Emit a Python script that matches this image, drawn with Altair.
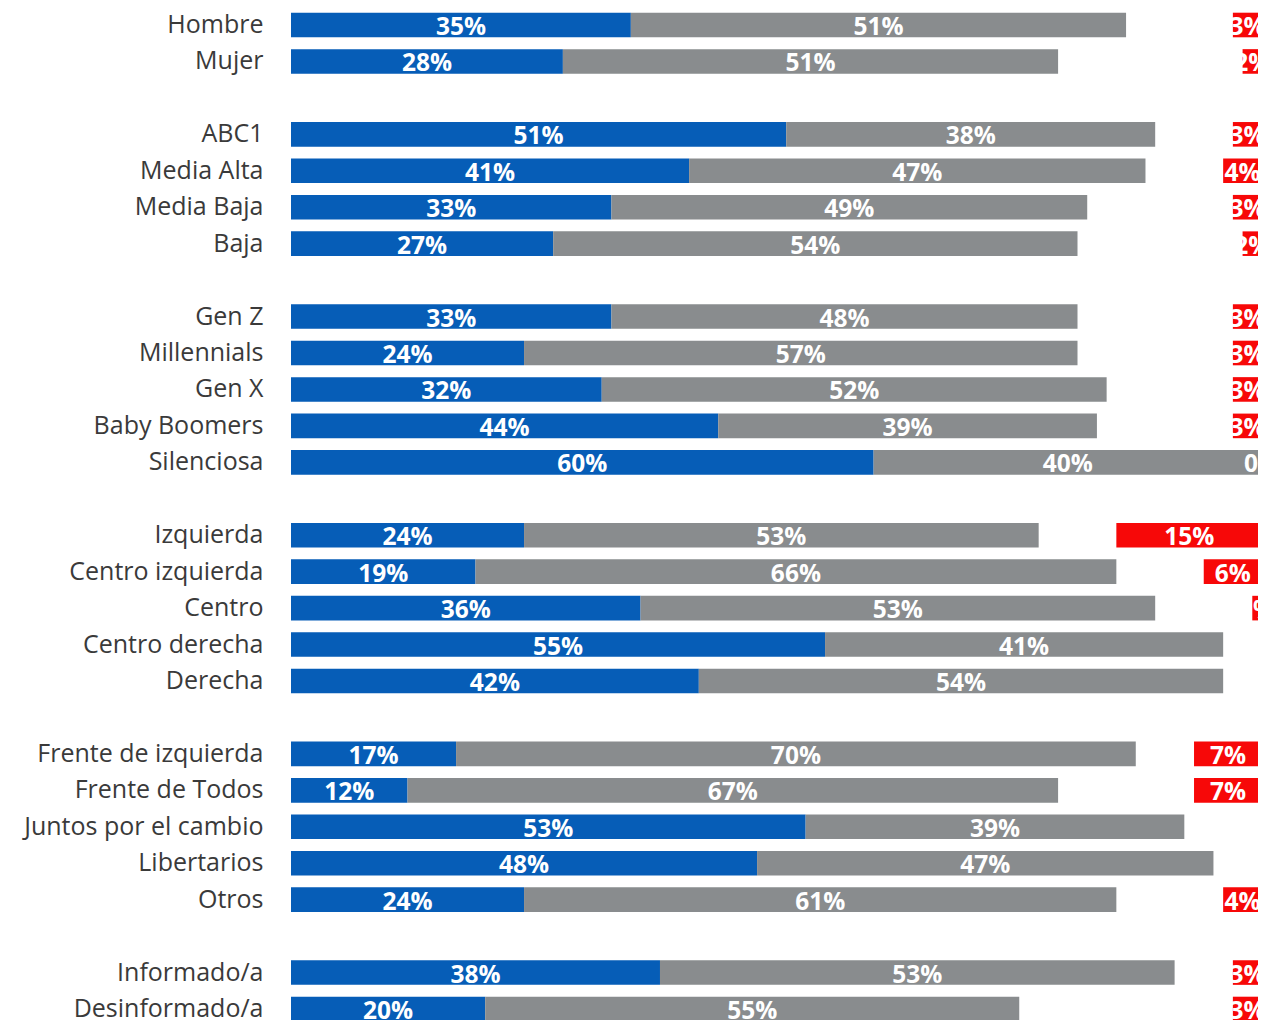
import altair as alt
import pandas as pd

categories = [
    "Hombre", "Mujer", " ",
    "ABC1", "Media Alta", "Media Baja", "Baja", "  ",
    "Gen Z", "Millennials", "Gen X", "Baby Boomers", "Silenciosa", "   ",
    "Izquierda", "Centro izquierda", "Centro", "Centro derecha", "Derecha", "    ",
    "Frente de izquierda", "Frente de Todos", "Juntos por el cambio", "Libertarios", "Otros", "     ",
    "Informado/a", "Desinformado/a",
]
blue = [35, 28, None, 51, 41, 33, 27, None, 33, 24, 32, 44, 60, None,
        24, 19, 36, 55, 42, None, 17, 12, 53, 48, 24, None, 38, 20]
gray = [51, 51, None, 38, 47, 49, 54, None, 48, 57, 52, 39, 40, None,
        53, 66, 53, 41, 54, None, 70, 67, 39, 47, 61, None, 53, 55]
red = [3, 2, None, 3, 4, 3, 2, None, 3, 3, 3, 3, 0, None,
       15, 6, 1, 0.3, 0.3, None, 7, 7, 0, 0, 4, None, 3, 3]

rows = []
for c, b, g, r in zip(categories, blue, gray, red):
    if b is None:
        continue
    rows.append({"cat": c, "serie": "a", "start": 0, "end": b, "val": b})
    rows.append({"cat": c, "serie": "b", "start": b, "end": b + g, "val": g})
    rows.append({"cat": c, "serie": "c", "start": 100 - r, "end": 100, "val": r})
df = pd.DataFrame(rows)

x_scale = alt.Scale(domain=[0, 100], nice=False, zero=False, range=[0, 971])
y_scale = alt.Scale(domain=categories, paddingInner=0.325, paddingOuter=0.129,
                    range=[0, 1018])

base = alt.Chart(df).encode(
    y=alt.Y("cat:N", sort=categories, scale=y_scale,
            axis=alt.Axis(title=None, ticks=False, domain=False, labelPadding=28,
                          labelFontSize=25, labelFont="Open Sans", labelColor="#3a3a3a",
                          labelLimit=400))
)

bars = base.mark_bar().encode(
    x=alt.X("start:Q", scale=x_scale, axis=None),
    x2="end:Q",
    color=alt.Color("serie:N", scale=alt.Scale(domain=["a", "b", "c"],
                    range=["#065db7", "#898c8e", "#f70808"]), legend=None),
)

labels = base.transform_calculate(
    mid="(datum.start + datum.end) / 2",
    lab="round(datum.val) + '%'",
).mark_text(color="white", fontSize=24.5, fontWeight="bold", font="Open Sans",
            baseline="middle", align="center", dy=3).encode(
    x=alt.X("mid:Q", scale=x_scale, axis=None),
    text="lab:N",
)

chart = (bars + labels).properties(
    width=967, height=1018,
    padding={"left": 283, "top": 0, "right": 0, "bottom": 0},
    autosize=alt.AutoSizeParams(type="none"),
).configure_view(stroke=None)

chart.save("out.html", embed_options={"renderer": "svg", "actions": False})
